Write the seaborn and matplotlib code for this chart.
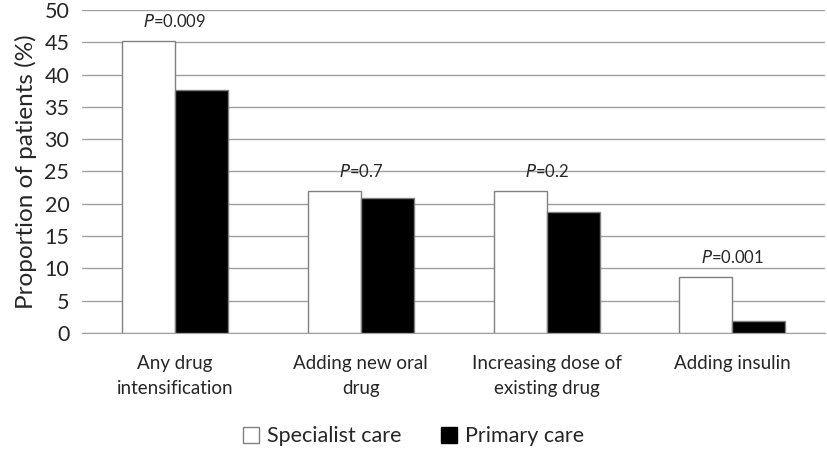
import pandas as pd
import matplotlib
matplotlib.use("Agg")
import matplotlib.pyplot as plt
from matplotlib.patches import Patch
import seaborn as sns

categories = ["Any drug\nintensification", "Adding new oral\ndrug",
              "Increasing dose of\nexisting drug", "Adding insulin"]
specialist = [45.2, 21.9, 21.9, 8.6]
primary = [37.6, 20.9, 18.7, 1.8]
p_values = ["0.009", "0.7", "0.2", "0.001"]
groups = ["Specialist care", "Primary care"]

df = pd.DataFrame({
    "category": categories * 2,
    "value": specialist + primary,
    "group": [groups[0]] * 4 + [groups[1]] * 4,
})

sns.set_style("white")
plt.rcParams["font.family"] = ["Lato", "DejaVu Sans"]

fig = plt.figure(figsize=(8.27, 4.5), dpi=100)
ax = fig.add_axes([0.099, 0.26, 0.899, 0.718])

sns.barplot(data=df, x="category", y="value", hue="group",
            palette={groups[0]: "white", groups[1]: "black"},
            edgecolor="#808080", linewidth=1, width=0.57, ax=ax,
            legend=False, zorder=3)

ax.set_ylim(0, 50)
ax.set_yticks(range(0, 51, 5))
ax.yaxis.grid(True, color="#a0a0a0", linewidth=1, zorder=0)
ax.set_axisbelow(True)
for s in ["top", "right", "left"]:
    ax.spines[s].set_visible(False)
ax.spines["bottom"].set_color("#a0a0a0")
ax.tick_params(axis="y", length=0, labelsize=15.5, pad=9)
ax.tick_params(axis="x", length=0, labelsize=13.5, pad=16)
for lbl in ax.get_xticklabels():
    lbl.set_linespacing(1.55)
ax.set_xlabel("")
ax.set_ylabel("Proportion of patients (%)", fontsize=17.5, labelpad=5)

# P-value labels above each group
for i, p in enumerate(p_values):
    top = max(specialist[i], primary[i])
    ax.text(i, top + 1.7, r"$\it{P}$" + "=" + p, ha="center", va="bottom",
            fontsize=12)

handles = [Patch(facecolor="white", edgecolor="#808080", label=groups[0]),
           Patch(facecolor="black", edgecolor="black", label=groups[1])]
fig.legend(handles=handles, loc="lower center", ncol=2, frameon=False,
           fontsize=15.5, bbox_to_anchor=(0.5, -0.035), handlelength=0.75,
           handleheight=0.75, handletextpad=0.4, columnspacing=1.8)

fig.savefig("out.png", dpi=100)
